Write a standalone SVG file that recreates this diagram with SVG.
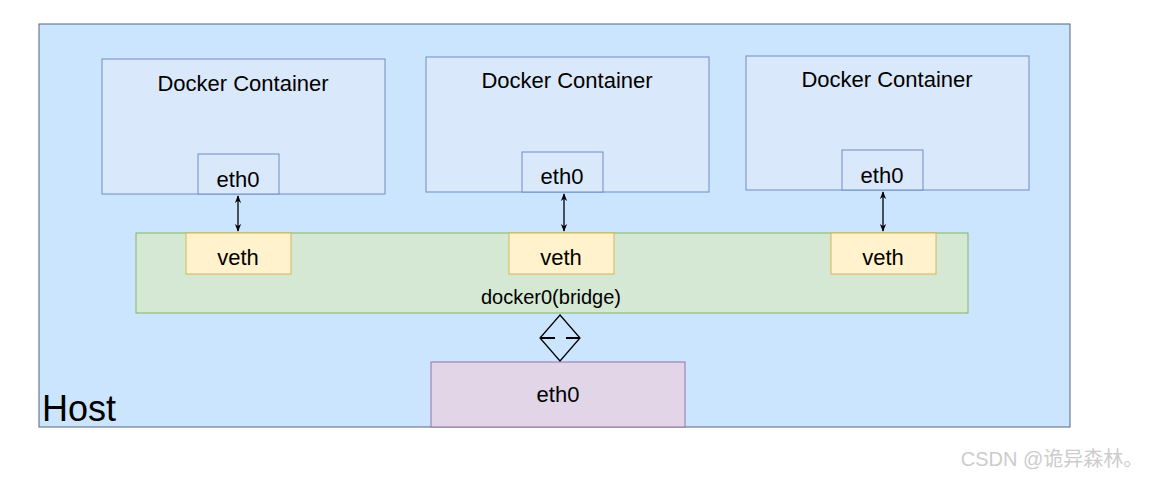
<svg xmlns="http://www.w3.org/2000/svg" width="1159" height="478" viewBox="0 0 1159 478">
<style>
text{font-family:"Liberation Sans",Arial,sans-serif;fill:#000;text-anchor:middle}
.c{fill:#dae8fc;stroke:#6c8ebf;stroke-width:1}
.v{fill:#fff2cc;stroke:#d6b656}
.l{stroke:#000;stroke-width:1.3;fill:none}
</style>
<defs>
<marker id="a" viewBox="0 0 10 10" refX="9" refY="5" markerWidth="6" markerHeight="6" orient="auto-start-reverse"><path d="M0,1 L10,5 L0,9 L3,5 Z" fill="#000"/></marker>
</defs>
<rect width="1159" height="478" fill="#fff"/>
<g id="host"><rect x="39" y="24" width="1031" height="403" fill="#cce5ff" stroke="#56657a"/><text x="42" y="421" font-size="36" style="text-anchor:start">Host</text></g>
<g id="c1"><rect class="c" x="102" y="59" width="283" height="135"/><text x="243" y="91" font-size="22">Docker Container</text></g>
<g id="c2"><rect class="c" x="426" y="57" width="283" height="135"/><text x="567" y="88" font-size="22">Docker Container</text></g>
<g id="c3"><rect class="c" x="746" y="56" width="283" height="134"/><text x="887" y="87" font-size="22">Docker Container</text></g>
<g id="e1"><rect class="c" x="198" y="154" width="81" height="40"/><text x="238" y="187" font-size="22">eth0</text></g>
<g id="e2"><rect class="c" x="522" y="152" width="81" height="40"/><text x="562" y="184" font-size="22">eth0</text></g>
<g id="e3"><rect class="c" x="842" y="150" width="81" height="40"/><text x="882" y="183" font-size="22">eth0</text></g>
<g id="bridge"><rect x="136" y="233" width="832" height="80" fill="#d5e8d4" stroke="#82b366"/><text x="551" y="304" font-size="20">docker0(bridge)</text></g>
<g id="v1"><rect class="v" x="186" y="233" width="105" height="41"/><text x="238" y="265" font-size="22">veth</text></g>
<g id="v2"><rect class="v" x="509" y="233" width="105" height="41"/><text x="561" y="265" font-size="22">veth</text></g>
<g id="v3"><rect class="v" x="831" y="233" width="105" height="41"/><text x="883" y="265" font-size="22">veth</text></g>
<g id="heth"><rect x="431" y="362" width="254" height="65" fill="#e1d5e7" stroke="#9673a6"/><text x="558" y="402" font-size="22">eth0</text></g>
<g id="connectors">
<line class="l" x1="238" y1="196" x2="238" y2="231" marker-start="url(#a)" marker-end="url(#a)"/>
<line class="l" x1="564" y1="194" x2="564" y2="231" marker-start="url(#a)" marker-end="url(#a)"/>
<line class="l" x1="883" y1="192" x2="883" y2="231" marker-start="url(#a)" marker-end="url(#a)"/>
<path class="l" d="M560,315 L580,338 L560,361 L540,338 Z"/>
<line x1="541" y1="338" x2="555" y2="338" stroke="#000" stroke-width="2"/>
<line x1="566" y1="338" x2="579" y2="338" stroke="#000" stroke-width="2"/>
</g>
<text x="1052" y="466" font-size="20" style="fill:#ccc;font-family:'Liberation Sans','Noto Sans CJK SC',sans-serif">CSDN @诡异森林。</text>
</svg>
